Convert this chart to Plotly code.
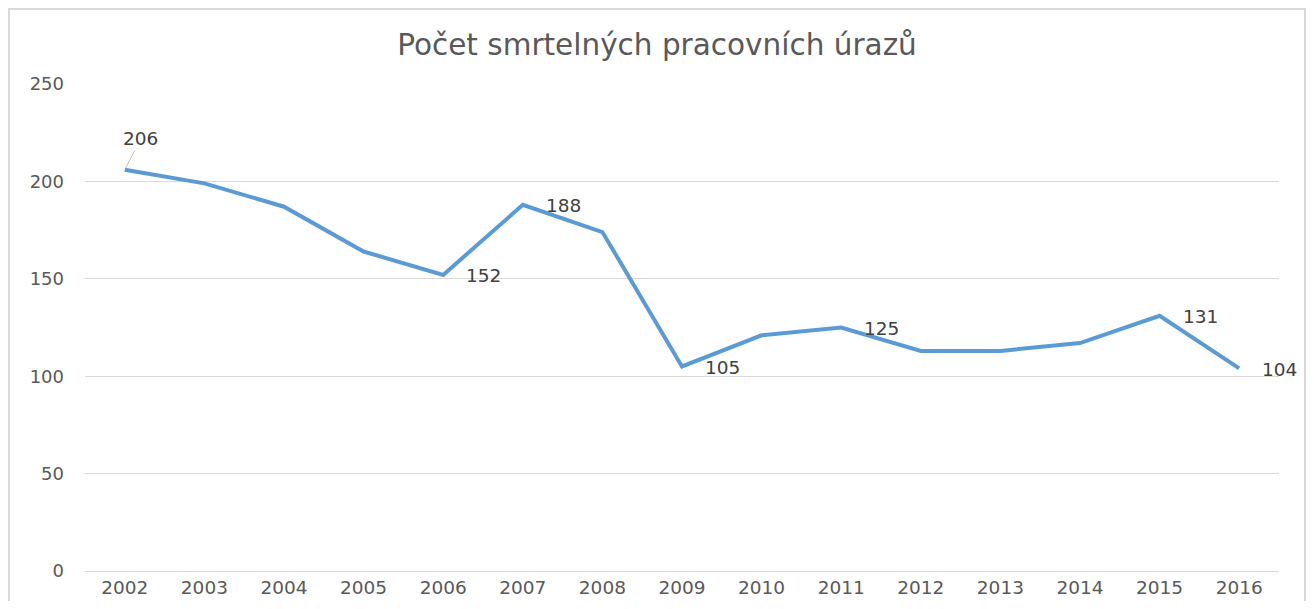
import plotly.graph_objects as go

years = ["2002", "2003", "2004", "2005", "2006", "2007", "2008", "2009",
         "2010", "2011", "2012", "2013", "2014", "2015", "2016"]
values = [206, 199, 187, 164, 152, 188, 174, 105, 121, 125, 113, 113, 117, 131, 104]
labelled = ["2007", "2006", "2009", "2011", "2015", "2016"]
y_ticks = [0, 50, 100, 150, 200, 250]

FONT = "'DejaVu Sans', sans-serif"
GRAY = "#595959"
LABEL = "#404040"

fig = go.Figure()
fig.add_trace(go.Scatter(x=years, y=values, mode="lines",
                         line=dict(color="#5B9BD5", width=4), hoverinfo="x+y"))

annotations = []
for i, (yr, v) in enumerate(zip(years, values)):
    if yr in labelled:
        annotations.append(dict(x=i, y=v, xref="x", yref="y", text=str(v), showarrow=False,
                                xanchor="left", yanchor="middle", xshift=21, yshift=-1,
                                font=dict(family=FONT, size=18.5, color=LABEL)))
annotations.append(dict(x=0, y=values[0], xref="x", yref="y", text=str(values[0]),
                        showarrow=True, arrowhead=0, arrowwidth=1, arrowcolor="#bfbfbf",
                        ax=16, ay=-31, standoff=2,
                        font=dict(family=FONT, size=18.5, color=LABEL)))

fig.update_layout(
    width=1298, height=593,
    margin=dict(l=77, r=27, t=76, b=30),
    paper_bgcolor="white", plot_bgcolor="white",
    showlegend=False,
    title=dict(text="Počet smrtelných pracovních úrazů", x=0.5, xanchor="center",
               y=0.938, yanchor="middle",
               font=dict(family=FONT, size=29.5, color=GRAY)),
    xaxis=dict(type="category", range=[-0.5, 14.5], showgrid=False, zeroline=False,
               showline=False, ticks="", automargin=False, ticklabelstandoff=3,
               tickfont=dict(family=FONT, size=18.5, color=GRAY)),
    yaxis=dict(range=[0, 250], tickvals=y_ticks, showgrid=True, gridcolor="#d9d9d9",
               gridwidth=1, zeroline=True, zerolinecolor="#d9d9d9", zerolinewidth=1,
               showline=False, ticks="", ticklabelstandoff=20, automargin=False,
               tickfont=dict(family=FONT, size=18, color=GRAY)),
    annotations=annotations,
    shapes=[dict(type="rect", xref="paper", yref="paper",
                 x0=-0.0637, x1=1.0218, y0=-0.2, y1=1.154,
                 line=dict(color="#d9d9d9", width=2), layer="below")],
)

fig.write_html("out.html")
